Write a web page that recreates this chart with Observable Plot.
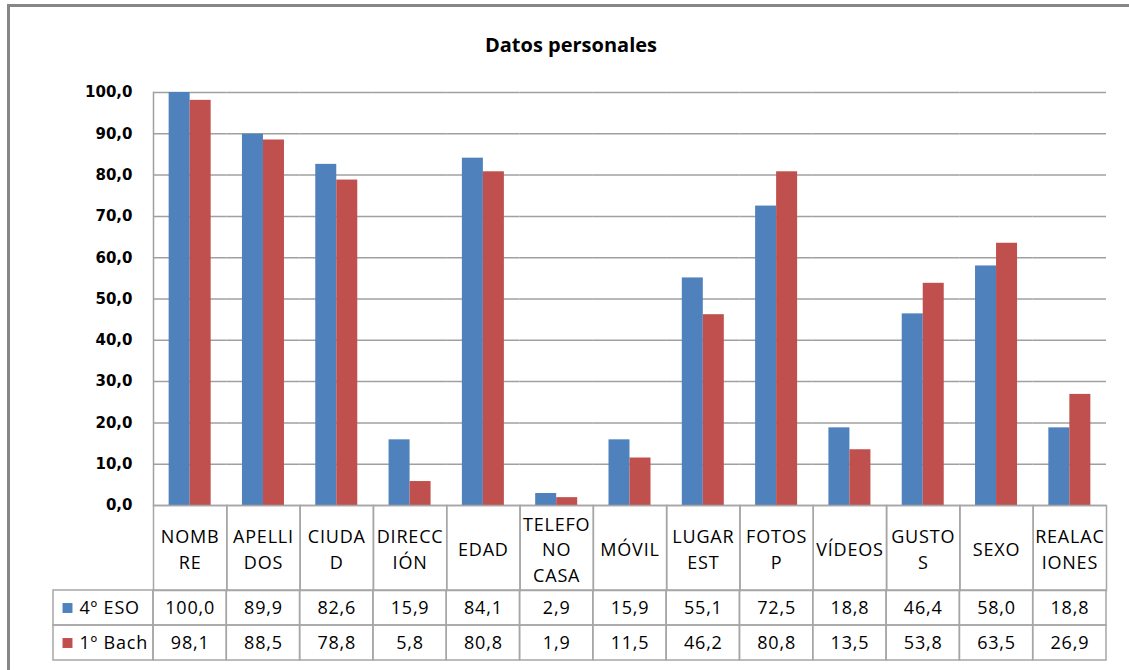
<!DOCTYPE html>
<html>
<head>
<meta charset="utf-8">
<script src="https://cdn.jsdelivr.net/npm/d3@7"></script>
<script src="https://cdn.jsdelivr.net/npm/@observablehq/plot@0.6"></script>
<style>
  html, body { margin: 0; padding: 0; background: #fff; overflow: hidden; }
  #root { position: relative; width: 1129px; height: 670px; overflow: hidden; font-family: "Open Sans", sans-serif; }
  #border { position: absolute; left: 7px; top: 4px; width: 1300px; height: 900px; border: 3px solid #878787; box-sizing: border-box; }
  #title { position: absolute; left: 0; top: 30px; width: 1142px; text-align: center; font-weight: bold; font-size: 20px; color: #000; line-height: 30px; }
  .p { position: absolute; }
  .p svg { overflow: visible; }
  .tbl text { letter-spacing: 0.8px; }
</style>
</head>
<body>
<div id="root">
  <div id="border"></div>
  <div id="title">Datos personales</div>
  <div class="p" id="main" style="left:0;top:0"></div>
  <div class="p tbl" id="header" style="left:0;top:505px"></div>
  <div class="p tbl" id="values" style="left:0;top:590px"></div>
  <div class="p tbl" id="legend" style="left:53px;top:590px"></div>
</div>
<script>
const categories = ["NOMBRE","APELLIDOS","CIUDAD","DIRECCIÓN","EDAD","TELEFONO CASA","MÓVIL","LUGAR EST","FOTOS P","VÍDEOS","GUSTOS","SEXO","REALACIONES"];
const categoryLabels = ["NOMB\nRE","APELLI\nDOS","CIUDA\nD","DIRECC\nIÓN","EDAD","TELEFO\nNO\nCASA","MÓVIL","LUGAR\nEST","FOTOS\nP","VÍDEOS","GUSTO\nS","SEXO","REALAC\nIONES"];
const series = ["4º ESO", "1º Bach"];
const eso4 = [100.0, 89.9, 82.6, 15.9, 84.1, 2.9, 15.9, 55.1, 72.5, 18.8, 46.4, 58.0, 18.8];
const bach1 = [98.1, 88.5, 78.8, 5.8, 80.8, 1.9, 11.5, 46.2, 80.8, 13.5, 53.8, 63.5, 26.9];
const colors = ["#4F81BD", "#C0504D"];
const yTicks = [0, 10, 20, 30, 40, 50, 60, 70, 80, 90, 100];

const rows = categories.flatMap((c, i) => [
  {cat: c, series: series[0], value: eso4[i]},
  {cat: c, series: series[1], value: bach1[i]}
]);
const fmt = v => v.toFixed(1).replace(".", ",");
const W = 1129, ML = 153, MR = 23;
const gridColor = "#a0a0a0";
const tableColor = "#a6a6a6";
const baseStyle = {fontFamily: "Open Sans, sans-serif", fontSize: "18px", color: "#000", background: "transparent", overflow: "visible"};
const fxOpt = {domain: categories, paddingInner: 0, paddingOuter: 0, round: false, axis: null};

const main = Plot.plot({
  width: W, height: 506,
  marginLeft: ML, marginRight: MR, marginTop: 92, marginBottom: 1,
  style: baseStyle,
  fx: fxOpt,
  x: {domain: series, paddingInner: 0, paddingOuter: 0.745, round: false, axis: null},
  y: {domain: [0, 100], axis: null},
  color: {domain: series, range: colors},
  marks: [
    Plot.gridY(yTicks, {stroke: gridColor, strokeOpacity: 1, strokeWidth: 1.5}),
    Plot.barY(rows, {fx: "cat", x: "series", y: "value", fill: "series"}),
    Plot.frame({anchor: "left", stroke: gridColor, strokeWidth: 1.5, facetAnchor: "left"}),
    Plot.axisY(yTicks, {
      label: null, tickSize: 0, tickPadding: 21, tickFormat: fmt,
      fontFamily: "DejaVu Sans, sans-serif", fontSize: 15, fontWeight: "bold", fill: "#000"
    })
  ]
});
document.getElementById("main").append(main);

const header = Plot.plot({
  width: W, height: 85,
  marginLeft: ML, marginRight: MR, marginTop: 0, marginBottom: 0,
  style: baseStyle,
  fx: fxOpt,
  marks: [
    Plot.frame({stroke: tableColor, strokeWidth: 1.5}),
    Plot.text(categories, {
      fx: d => d, text: (d, i) => categoryLabels[i],
      frameAnchor: "middle", lineHeight: 1.42, fontSize: 18, fill: "#000"
    })
  ]
});
document.getElementById("header").append(header);

const values = Plot.plot({
  width: W, height: 71,
  marginLeft: ML, marginRight: MR, marginTop: 0, marginBottom: 1,
  style: baseStyle,
  fx: fxOpt,
  y: {domain: series, padding: 0, round: false, axis: null},
  marks: [
    Plot.cell(rows, {fx: "cat", y: "series", fill: "none", stroke: tableColor, strokeWidth: 1.5}),
    Plot.text(rows, {fx: "cat", y: "series", text: d => fmt(d.value), fontSize: 18, fill: "#000"})
  ]
});
document.getElementById("values").append(values);

const legend = Plot.plot({
  width: 100, height: 71,
  marginLeft: 0, marginRight: 0, marginTop: 0, marginBottom: 1,
  style: baseStyle,
  y: {domain: series, padding: 0, round: false, axis: null},
  color: {domain: series, range: colors},
  marks: [
    Plot.cell(series, {y: d => d, fill: "none", stroke: tableColor, strokeWidth: 1.5}),
    Plot.dot(series, {y: d => d, frameAnchor: "left", dx: 14, symbol: "square", r: 5.6, fill: d => d}),
    Plot.text(series, {y: d => d, text: d => d, frameAnchor: "left", dx: 26, textAnchor: "start", fontSize: 18, fill: "#000"})
  ]
});
document.getElementById("legend").append(legend);
</script>
</body>
</html>
